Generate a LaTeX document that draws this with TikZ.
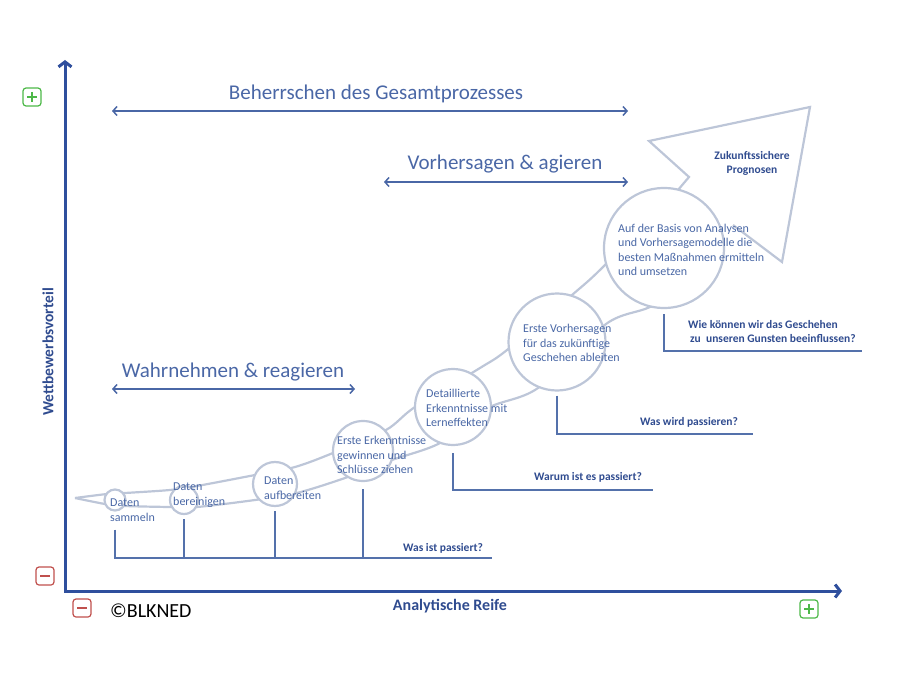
\documentclass[tikz,border=0pt]{standalone}
\usepackage{fontspec}
\setmainfont{Carlito}
\usetikzlibrary{arrows.meta}
\usepackage{xcolor}
\definecolor{axisblue}{HTML}{2F4F9D}
\definecolor{spanblue}{HTML}{4A67A6}
\definecolor{stageblue}{HTML}{4A68A6}
\definecolor{labelblue}{HTML}{2F4B8F}
\definecolor{bandgray}{HTML}{BDC6D8}
\definecolor{bracketblue}{HTML}{5471AB}
\definecolor{plusgreen}{HTML}{4DB848}
\definecolor{minusred}{HTML}{C0504D}

\begin{document}
\begin{tikzpicture}[x=1pt,y=-1pt,
  axisline/.style={draw=axisblue,line width=3pt,{Straight Barb[length=5pt,width=13pt,line width=3pt]}-{Straight Barb[length=5pt,width=13pt,line width=3pt]}},
  spanarrow/.style={draw=spanblue,line width=1.5pt,{Straight Barb[length=4pt,width=9pt]}-{Straight Barb[length=4pt,width=9pt]}},
  span/.style={text=spanblue,inner sep=0pt,font=\fontsize{21}{25}\selectfont},
  band/.style={draw=bandgray,line width=2.2pt,line join=miter},
  stage/.style={circle,draw=bandgray,line width=2.2pt,fill=white,inner sep=0pt},
  stagetext/.style={anchor=west,align=left,inner sep=0pt,text=stageblue,font=\fontsize{12}{14.5}\selectfont},
  question/.style={text=labelblue,inner sep=0pt,font=\bfseries\fontsize{11.5}{14}\selectfont},
  bracket/.style={draw=bracketblue,line width=1.5pt},
  signbox/.style={draw=#1,line width=1.2pt,rounded corners=3pt,minimum size=18pt,inner sep=0pt}]
\useasboundingbox (0,0) rectangle (905,679);

% axes
\coordinate (O) at (65,591);
\coordinate (ytop) at (65,60);
\coordinate (xend) at (842,591);
\draw[axisline] (ytop) -- (O) -- (xend);
\node[rotate=90,text=labelblue,font=\bfseries\fontsize{15.5}{18}\selectfont] (ylab) at (48,352) {Wettbewerbsvorteil};
\node[text=labelblue,font=\bfseries\fontsize{16}{19}\selectfont] (xlab) at (450,606) {Analytische Reife};

% plus and minus boxes
\node[signbox=plusgreen] (ptop) at (32,97) {};
\draw[plusgreen,line width=1.8pt] (ptop.center) ++(-5,0) -- ++(10,0) (ptop.center) ++(0,-5) -- ++(0,10);
\node[signbox=minusred] (mleft) at (45,576) {};
\draw[minusred,line width=1.8pt] (mleft.center) ++(-5,0) -- ++(10,0);
\node[signbox=minusred] (mbot) at (82,608) {};
\draw[minusred,line width=1.8pt] (mbot.center) ++(-5,0) -- ++(10,0);
\node[signbox=plusgreen] (pright) at (809,609) {};
\draw[plusgreen,line width=1.8pt] (pright.center) ++(-5,0) -- ++(10,0) (pright.center) ++(0,-5) -- ++(0,10);
\node[anchor=west,inner sep=0pt,font=\fontsize{20}{23}\selectfont] (copy) at (110,611) {©BLKNED};

% spans
\node[span] (s1) at (376,94) {Beherrschen des Gesamtprozesses};
\coordinate (s1l) at (112,111);
\coordinate (s1r) at (628,111);
\draw[spanarrow] (s1l) -- (s1r);
\node[span] (s2) at (505,164) {Vorhersagen \& agieren};
\coordinate (s2l) at (384,182);
\coordinate (s2r) at (628,182);
\draw[spanarrow] (s2l) -- (s2r);
\node[span] (s3) at (233,372) {Wahrnehmen \& reagieren};
\coordinate (s3l) at (112,389);
\coordinate (s3r) at (355,389);
\draw[spanarrow] (s3l) -- (s3r);

% band and arrow head
\draw[band] plot[smooth] coordinates {(75,498) (107,494) (125,493) (170,490) (197,486) (255,475) (295,467) (333,453) (386,430) (415,407) (480,368) (507,350) (572,295) (603,267) (678,190)};
\draw[band] plot[smooth] coordinates {(75,498) (105,504) (125,506) (170,507) (197,507) (255,500) (297,493) (345,478) (392,460) (440,443) (488,408) (538,388) (606,324) (650,307) (700,280)};
\draw[band] (678,190) -- (689,177) -- (649,141) -- (810,107) -- (782,262) -- (733,225);

% stages
\node[stage,minimum size=21pt] (c1) at (115,500) {};
\node[stage,minimum size=28pt] (c2) at (184,500) {};
\node[stage,minimum size=44pt] (c3) at (275,484) {};
\node[stage,minimum size=60pt] (c4) at (363,451) {};
\node[stage,minimum size=76pt] (c5) at (453,407) {};
\node[stage,minimum size=97pt] (c6) at (557,342) {};
\node[stage,minimum size=120pt] (c7) at (664,248) {};

\node[stagetext] (t1) at (110,510) {Daten\\sammeln};
\node[stagetext] (t2) at (173,495) {Daten\\bereinigen};
\node[stagetext] (t3) at (264,488) {Daten\\aufbereiten};
\node[stagetext] (t4) at (337,455) {Erste Erkenntnisse\\gewinnen und\\Schlüsse ziehen};
\node[stagetext] (t5) at (426,408) {Detaillierte\\Erkenntnisse mit\\Lerneffekten};
\node[stagetext] (t6) at (523,343) {Erste Vorhersagen\\für das zukünftige\\Geschehen ableiten};
\node[stagetext] (t7) at (618,250) {Auf der Basis von Analysen\\und Vorhersagemodelle die\\besten Maßnahmen ermitteln\\und umsetzen};
\node[question,align=center] (zp) at (752,163) {Zukunftssichere\\Prognosen};

% questions
\coordinate (q1e) at (492,558);
\draw[bracket] ([yshift=-18pt]c1.south) |- (q1e);
\draw[bracket] ([yshift=-4pt]c2.south) -- (c2.south |- q1e);
\draw[bracket] ([yshift=-4pt]c3.south) -- (c3.south |- q1e);
\draw[bracket] ([yshift=-7pt]c4.south) -- (c4.south |- q1e);
\node[question] (q1) at (443,548) {Was ist passiert?};
\coordinate (q2e) at (653,490);
\draw[bracket] ([yshift=-7pt]c5.south) |- (q2e);
\node[question] (q2) at (588,477) {Warum ist es passiert?};
\coordinate (q3e) at (753,434);
\draw[bracket] ([yshift=-4pt]c6.south) |- (q3e);
\node[question] (q3) at (689,422) {Was wird passieren?};
\coordinate (q4e) at (862,351);
\draw[bracket] ([yshift=-5pt]c7.south) |- (q4e);
\node[question,anchor=west,align=left] (q4) at (688,332) {Wie können wir das Geschehen\\\hspace*{2pt}zu\ \ unseren Gunsten beeinflussen?};
\end{tikzpicture}
\end{document}
